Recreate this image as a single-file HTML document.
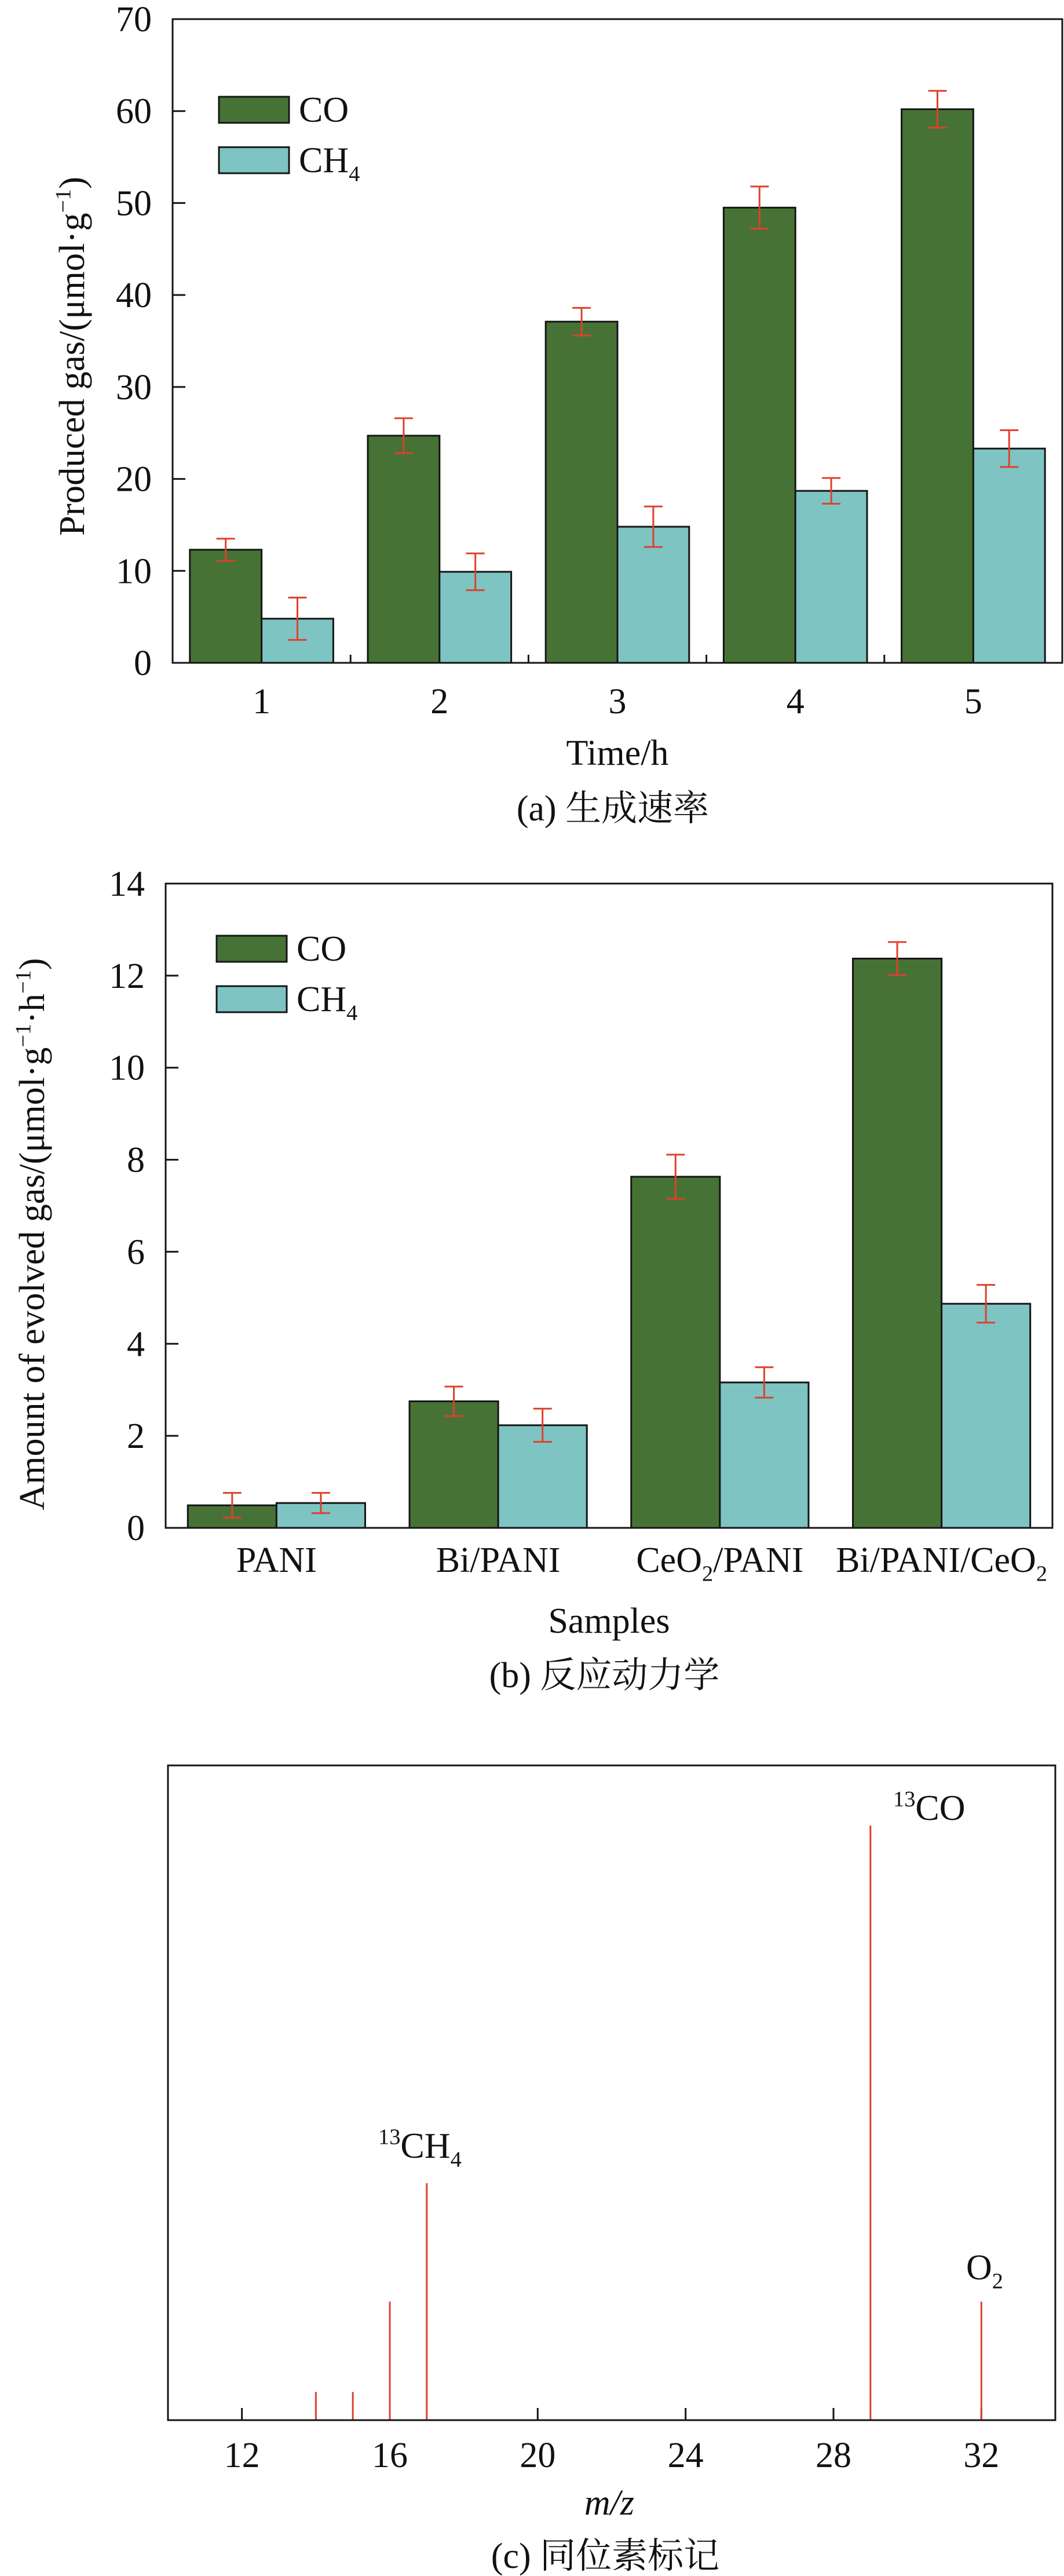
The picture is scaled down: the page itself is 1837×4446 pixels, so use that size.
<!DOCTYPE html>
<html><head><meta charset="utf-8"><style>
html,body{margin:0;padding:0;background:#fff}
svg{display:block}
text{font-family:"Liberation Serif","Noto Serif CJK SC",serif;fill:#111}
</style></head><body>
<svg id="fig" width="1837" height="4446" viewBox="0 0 1837 4446" xmlns="http://www.w3.org/2000/svg"></svg>
<script>
// ---- Chart (a) data ----
const aCategories = ["1","2","3","4","5"];
const aCO = [12.3, 24.7, 37.1, 49.5, 60.2];
const aCOErr = [1.2, 1.9, 1.5, 2.3, 2.0];
const aCH4 = [4.8, 9.9, 14.8, 18.7, 23.3];
const aCH4Err = [2.3, 2.0, 2.2, 1.4, 2.0];
const aYTicks = [0,10,20,30,40,50,60,70];
// ---- Chart (b) data ----
const bCategories = ["PANI","Bi/PANI","CeO2/PANI","Bi/PANI/CeO2"];
const bCO = [0.49, 2.75, 7.63, 12.37];
const bCOErr = [0.27, 0.32, 0.48, 0.36];
const bCH4 = [0.54, 2.23, 3.16, 4.87];
const bCH4Err = [0.22, 0.36, 0.33, 0.41];
const bYTicks = [0,2,4,6,8,10,12,14];
// ---- Chart (c) data ----
const cMZ = [14, 15, 16, 17, 29, 32];
const cIntensity = [4.3, 4.3, 18.1, 36.2, 90.8, 18.1];
const cXTicks = [12,16,20,24,28,32];

const NS="http://www.w3.org/2000/svg";
const svg=document.getElementById('fig');
function mk(tag,attrs,parent){const e=document.createElementNS(NS,tag);for(const k in attrs)e.setAttribute(k,attrs[k]);(parent||svg).appendChild(e);return e;}
const GREEN="#467335", TEAL="#7dc4c2", RED="#e0402c", INK="#151515";

function subText(parent,x,y,parts,size,anchor){
  const t=mk('text',{x:x,y:y,'font-size':size,'text-anchor':anchor||'middle'},parent);
  parts.forEach(p=>{const s=mk('tspan',{},t);s.textContent=p[0];
    if(p[1]==='sub'){s.setAttribute('font-size',size*0.62);s.setAttribute('dy',size*0.25);}
    else if(p[1]==='sup'){s.setAttribute('font-size',size*0.62);s.setAttribute('dy',-size*0.38);}
    else if(p[1]==='back'){s.setAttribute('dy',p[2]);}
  });
  return t;
}
function labelParts(name){
  if(name==="CeO2/PANI")return [["CeO"],["2","sub"],["/PANI","back",-62*0.25]];
  if(name==="Bi/PANI/CeO2")return [["Bi/PANI/CeO"],["2","sub"]];
  return [[name]];
}

function barChart(o){
  const g=mk('g',{});
  
  
  const L=o.left,R=o.right,T=o.top,B=o.bottom;
  const y=v=>B-(v-o.ymin)/(o.ymax-o.ymin)*(B-T);
  const n=o.cats.length, cw=(R-L)/n, bw=cw*o.bwFrac;
  const cx=i=>L+cw*(i+0.5);
  // bars
  for(let i=0;i<n;i++){
    [[o.s1,o.e1,GREEN,-1,'co'],[o.s2,o.e2,TEAL,0,'ch4']].forEach(([s,e,col,off,nm])=>{
      const x0=cx(i)+off*bw;
      const r=mk('rect',{x:x0,y:y(s[i]),width:bw,height:B-y(s[i]),fill:col,stroke:INK,'stroke-width':3},g);
      
      
      const ex=x0+bw/2, cap=16;
      const eb=mk('path',{d:`M${ex},${y(s[i]+e[i])}V${y(s[i]-e[i])}M${ex-cap},${y(s[i]+e[i])}H${ex+cap}M${ex-cap},${y(s[i]-e[i])}H${ex+cap}`,stroke:RED,'stroke-width':3,fill:'none'},g);
      
      
    });
  }
  // frame
  const fr=mk('rect',{x:L,y:T,width:R-L,height:B-T,fill:'none',stroke:INK,'stroke-width':3},g);
  
  
  // y ticks
  o.yticks.forEach(v=>{
    mk('line',{x1:L,x2:L+22,y1:y(v),y2:y(v),stroke:INK,'stroke-width':3},g);
    const t=mk('text',{x:L-36,y:y(v)+21,'font-size':62,'text-anchor':'end'},g);
    t.textContent=v;
    
    
  });
  if(o.xticks){for(let i=1;i<n;i++)mk('line',{x1:L+cw*i,x2:L+cw*i,y1:B,y2:B-14,stroke:INK,'stroke-width':3},g);}
  // x labels
  for(let i=0;i<n;i++){
    const t=subText(g,cx(i),o.xlabY,labelParts(o.cats[i]),62,'middle');
    
    
  }
  // legend
  [[GREEN,[["CO"]],o.legY1,'legend-co'],[TEAL,[["CH"],["4","sub"]],o.legY2,'legend-ch4']].forEach(([col,parts,ly,nm])=>{
    const lg=mk('g',{},g);
    
    
    mk('rect',{x:o.legX,y:ly,width:121,height:45,fill:col,stroke:INK,'stroke-width':3},lg);
    subText(lg,o.legX+138,ly+43,parts,62,'start');
  });
  // axis titles
  const xt=mk('text',{x:(L+R)/2,y:o.xtitleY,'font-size':62,'text-anchor':'middle'},g);
  xt.textContent=o.xtitle;
  
  
  const yt=subText(g,0,0,o.ytitle,62,'middle');
  yt.setAttribute('transform',`translate(${o.ytX},${o.ytY}) rotate(-90)`);
  yt.setAttribute('textLength',o.ytLen);
  yt.setAttribute('lengthAdjust','spacingAndGlyphs');
  
  
  const cap=mk('text',{x:(L+R)/2-8,y:o.capY,'font-size':62,'text-anchor':'middle'},g);
  cap.textContent=o.caption;
  
  
}

barChart({name:'chart-a',left:298,right:1834,top:33,bottom:1144,ymin:0,ymax:70,cats:aCategories,
  s1:aCO,e1:aCOErr,s2:aCH4,e2:aCH4Err,bwFrac:0.403,yticks:aYTicks,xticks:true,xlabY:1231,
  legX:378,legY1:167,legY2:254,xtitle:'Time/h',xtitleY:1320,
  ytitle:[["Produced gas/(μmol·g"],["−1","sup"],[")","back",62*0.38]],ytX:145,ytY:615,ytLen:620,
  caption:'(a) 生成速率',capY:1416});

barChart({name:'chart-b',left:286,right:1817,top:1525,bottom:2637,ymin:0,ymax:14,cats:bCategories,
  s1:bCO,e1:bCOErr,s2:bCH4,e2:bCH4Err,bwFrac:0.4,yticks:bYTicks,xticks:false,xlabY:2713,
  legX:374,legY1:1615,legY2:1702,xtitle:'Samples',xtitleY:2818,
  ytitle:[["Amount of evolved gas/(μmol·g"],["−1","sup"],["·h","back",62*0.38],["−1","sup"],[")","back",62*0.38]],ytX:76,ytY:2130,ytLen:953,
  caption:'(b) 反应动力学',capY:2912});

// ---- Chart (c) ----
(function(){
  const g=mk('g',{});
  
  
  const L=290,R=1822,T=3047,B=4177,xmin=10,xmax=34;
  const x=v=>L+(v-xmin)/(xmax-xmin)*(R-L);
  const y=v=>B-v/100*(B-T);
  cXTicks.forEach(v=>{
    mk('line',{x1:x(v),x2:x(v),y1:B,y2:B-21,stroke:INK,'stroke-width':3},g);
    const t=mk('text',{x:x(v),y:4258,'font-size':62,'text-anchor':'middle'},g);
    t.textContent=v;
    
    
  });
  cMZ.forEach((m,i)=>{
    const l=mk('line',{x1:x(m),x2:x(m),y1:B,y2:y(cIntensity[i]),stroke:RED,'stroke-width':3},g);
    
    
  });
  const fr=mk('rect',{x:L,y:T,width:R-L,height:B-T,fill:'none',stroke:INK,'stroke-width':3},g);
  
  
  let t=subText(g,1542,3141,[["13","sup"],["CO","back",62*0.38]],62,'start');
  
  
  t=subText(g,653,3724,[["13","sup"],["CH","back",62*0.38],["4","sub"]],62,'start');
  
  
  t=subText(g,1668,3934,[["O"],["2","sub"]],62,'start');
  
  
  t=mk('text',{x:1052,y:4340,'font-size':62,'text-anchor':'middle','font-style':'italic'},g);
  t.textContent='m/z';
  
  
  t=mk('text',{x:1045,y:4432,'font-size':62,'text-anchor':'middle'},g);
  t.textContent='(c) 同位素标记';
  
  
})();
</script>
</body></html>
